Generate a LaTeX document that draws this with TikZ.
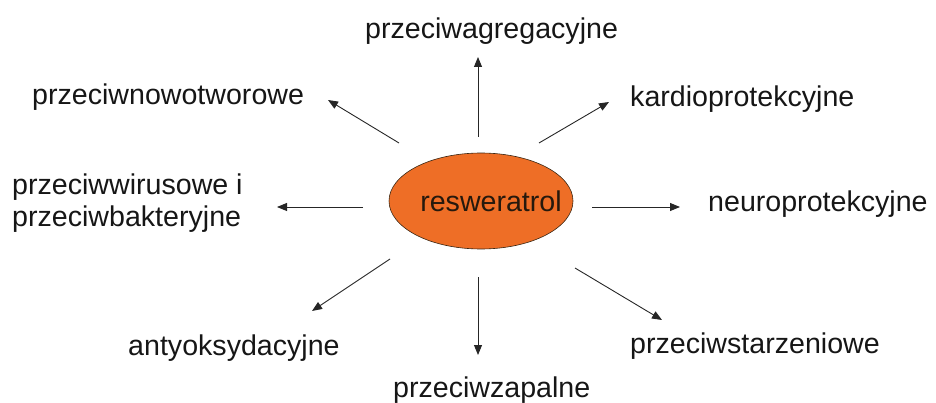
\documentclass[tikz,border=0pt]{standalone}
\usepackage{fontspec}
\setmainfont{Liberation Sans}
\usetikzlibrary{arrows.meta,shapes.geometric}
\definecolor{resorange}{RGB}{238,110,38}
\definecolor{txt}{RGB}{22,22,22}
\tikzset{
  lbl/.style={anchor=base west,inner sep=0pt,font=\fontsize{28.6}{32}\selectfont,text=txt},
  arr/.style={draw=black!85,line width=0.9pt,-{Triangle[length=10pt,width=8pt]}},
  centre/.style={ellipse,draw=black!70!brown,line width=0.6pt,fill=resorange,minimum width=184pt,minimum height=96pt,inner sep=0pt,font=\fontsize{28.6}{32}\selectfont,text=black!80!brown}
}
\begin{document}
\begin{tikzpicture}[x=1pt,y=-1pt]
\useasboundingbox (0,0) rectangle (936,403);
\node[centre] (res) at (481,201) {\makebox[0pt]{\hspace*{20pt}resweratrol}};
\node[lbl] (agr) at (365,39) {przeciwagregacyjne};
\node[lbl] (now) at (32,105) {przeciwnowotworowe};
\node[lbl] (kar) at (630,107) {kardioprotekcyjne};
\node[lbl] (wir) at (12,195) {przeciwwirusowe i};
\node[lbl] (bak) at (12,227) {przeciwbakteryjne};
\node[lbl] (neu) at (708,212) {neuroprotekcyjne};
\node[lbl] (ant) at (128,355) {antyoksydacyjne};
\node[lbl] (sta) at (630,353) {przeciwstarzeniowe};
\node[lbl] (zap) at (393,397) {przeciwzapalne};
\coordinate (s1) at (478,137); \coordinate (e1) at (478,57);
\coordinate (s2) at (399,143); \coordinate (e2) at (328,100);
\coordinate (s3) at (539,143); \coordinate (e3) at (609,102);
\coordinate (s4) at (363,207); \coordinate (e4) at (277,207);
\coordinate (s5) at (592,207); \coordinate (e5) at (680,207);
\coordinate (s6) at (390,259); \coordinate (e6) at (312,311);
\coordinate (s7) at (478,277); \coordinate (e7) at (478,355);
\coordinate (s8) at (575,268); \coordinate (e8) at (662,320);
\foreach \i in {1,...,8}{\draw[arr] (s\i) -- (e\i);}
\end{tikzpicture}
\end{document}
